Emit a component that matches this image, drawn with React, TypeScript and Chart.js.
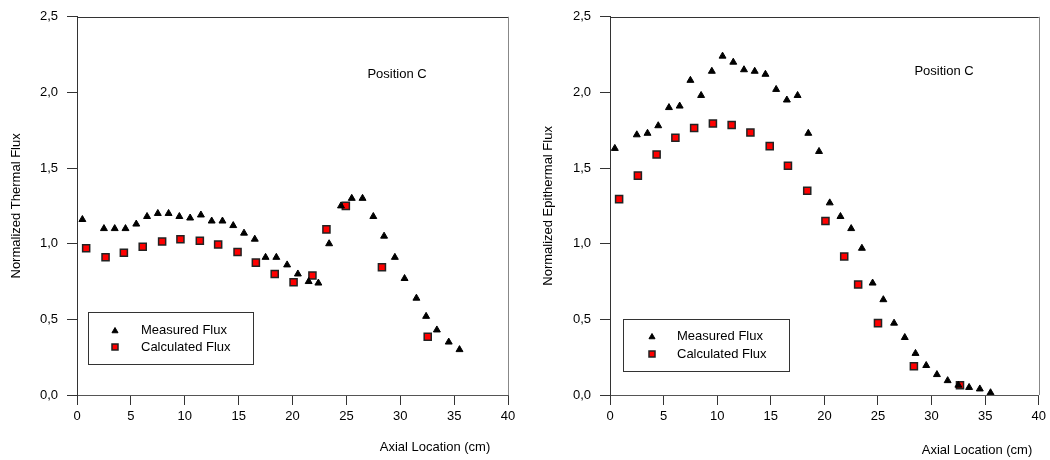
import React, { useEffect, useRef } from "react";
import { Chart, registerables } from "chart.js";

Chart.register(...registerables);

// ---------- Data ----------
const xTicks = [0, 5, 10, 15, 20, 25, 30, 35, 40];
const yTicks = [0, 0.5, 1.0, 1.5, 2.0, 2.5];

const thermalMeasuredX = [0.5, 2.5, 3.5, 4.5, 5.5, 6.5, 7.5, 8.5, 9.5, 10.5, 11.5, 12.5, 13.5, 14.5, 15.5, 16.5, 17.5, 18.5, 19.5, 20.5, 21.5, 22.4, 23.4, 24.5, 25.5, 26.5, 27.5, 28.5, 29.5, 30.4, 31.5, 32.4, 33.4, 34.5, 35.5];
const thermalMeasuredY = [1.16, 1.10, 1.10, 1.10, 1.13, 1.18, 1.20, 1.20, 1.18, 1.17, 1.19, 1.15, 1.15, 1.12, 1.07, 1.03, 0.91, 0.91, 0.86, 0.80, 0.75, 0.74, 1.00, 1.25, 1.30, 1.30, 1.18, 1.05, 0.91, 0.77, 0.64, 0.52, 0.43, 0.35, 0.30];
const thermalCalcX = [0.85, 2.65, 4.35, 6.1, 7.9, 9.6, 11.4, 13.1, 14.9, 16.6, 18.35, 20.1, 21.85, 23.15, 24.95, 28.3, 32.55];
const thermalCalcY = [0.97, 0.91, 0.94, 0.98, 1.015, 1.03, 1.02, 0.995, 0.945, 0.875, 0.80, 0.745, 0.79, 1.095, 1.25, 0.845, 0.385];

const epiMeasuredX = [0.45, 2.5, 3.5, 4.5, 5.5, 6.5, 7.5, 8.5, 9.5, 10.5, 11.5, 12.5, 13.5, 14.5, 15.5, 16.5, 17.5, 18.5, 19.5, 20.5, 21.5, 22.5, 23.5, 24.5, 25.5, 26.5, 27.5, 28.5, 29.5, 30.5, 31.5, 32.5, 33.5, 34.5, 35.5];
const epiMeasuredY = [1.63, 1.72, 1.73, 1.78, 1.90, 1.91, 2.08, 1.98, 2.14, 2.24, 2.20, 2.15, 2.14, 2.12, 2.02, 1.95, 1.98, 1.73, 1.61, 1.27, 1.18, 1.10, 0.97, 0.74, 0.63, 0.475, 0.38, 0.275, 0.195, 0.135, 0.095, 0.065, 0.05, 0.04, 0.015];
const epiCalcX = [0.85, 2.6, 4.35, 6.1, 7.85, 9.6, 11.35, 13.1, 14.9, 16.6, 18.4, 20.1, 21.85, 23.15, 25.0, 28.35, 32.65];
const epiCalcY = [1.295, 1.45, 1.59, 1.70, 1.765, 1.795, 1.785, 1.735, 1.645, 1.515, 1.35, 1.15, 0.915, 0.73, 0.475, 0.19, 0.065];

const seriesNames = ["Measured Flux", "Calculated Flux"];
const xTitle = "Axial Location (cm)";
const annotationText = "Position C";

const FONT = "'Liberation Sans', Arial, sans-serif";
const FS = 13;

function toPoints(xs: number[], ys: number[]) {
  return xs.map((x, i) => ({ x, y: ys[i] }));
}

type Layout = {
  left: number;
  yAxisWidth: number;
  rightPad: number;
  yTitlePad: number;
  legendBox: [number, number, number, number];
  legendMarkerX: number;
  legendTextX: number;
  legendRows: [number, number];
  annot: [number, number];
  xTitlePos: [number, number];
};

function drawTriangle(ctx: CanvasRenderingContext2D, x: number, y: number, r: number) {
  ctx.beginPath();
  ctx.moveTo(x, y - r);
  ctx.lineTo(x + r * Math.cos(Math.PI / 6), y + r * 0.5);
  ctx.lineTo(x - r * Math.cos(Math.PI / 6), y + r * 0.5);
  ctx.closePath();
  ctx.fillStyle = "#000";
  ctx.fill();
  ctx.strokeStyle = "#000";
  ctx.lineWidth = 1;
  ctx.stroke();
}

function drawSquare(ctx: CanvasRenderingContext2D, x: number, y: number, s: number) {
  ctx.fillStyle = "#ff0000";
  ctx.fillRect(x - s / 2, y - s / 2, s, s);
  ctx.strokeStyle = "#222";
  ctx.lineWidth = 1.5;
  ctx.strokeRect(x - s / 2, y - s / 2, s, s);
}

function FluxChart(props: {
  measured: { x: number; y: number }[];
  calculated: { x: number; y: number }[];
  yTitle: string;
  layout: Layout;
}) {
  const ref = useRef<HTMLCanvasElement>(null);
  const { layout } = props;

  useEffect(() => {
    if (!ref.current) return;
    const decor = {
      id: "decor",
      afterDraw(chart: any) {
        const ctx: CanvasRenderingContext2D = chart.ctx;
        const a = chart.chartArea;
        ctx.save();
        // frame top / right
        ctx.lineWidth = 1;
        ctx.strokeStyle = "#333";
        ctx.beginPath();
        ctx.moveTo(a.left, Math.round(a.top) + 0.5);
        ctx.lineTo(a.right, Math.round(a.top) + 0.5);
        ctx.stroke();
        ctx.strokeStyle = "#888";
        ctx.beginPath();
        ctx.moveTo(Math.round(a.right) + 0.5, a.top);
        ctx.lineTo(Math.round(a.right) + 0.5, a.bottom);
        ctx.stroke();

        // legend
        const [bx, by, bw, bh] = layout.legendBox;
        ctx.fillStyle = "#fff";
        ctx.fillRect(bx, by, bw, bh);
        ctx.strokeStyle = "#333";
        ctx.lineWidth = 1;
        ctx.strokeRect(bx + 0.5, by + 0.5, bw, bh);
        drawTriangle(ctx, layout.legendMarkerX, layout.legendRows[0] + 1, 3.5);
        drawSquare(ctx, layout.legendMarkerX, layout.legendRows[1], 6);
        ctx.fillStyle = "#000";
        ctx.font = `${FS}px ${FONT}`;
        ctx.textAlign = "left";
        ctx.textBaseline = "middle";
        ctx.fillText(seriesNames[0], layout.legendTextX, layout.legendRows[0]);
        ctx.fillText(seriesNames[1], layout.legendTextX, layout.legendRows[1]);

        // annotation
        ctx.textAlign = "center";
        ctx.fillText(annotationText, layout.annot[0], layout.annot[1]);

        // x title
        ctx.fillText(xTitle, layout.xTitlePos[0], layout.xTitlePos[1]);
        ctx.restore();
      },
    };

    const chart = new Chart(ref.current, {
      type: "scatter",
      data: {
        datasets: [
          {
            label: seriesNames[0],
            data: props.measured,
            pointStyle: "triangle",
            pointRadius: 4,
            backgroundColor: "#000",
            borderColor: "#000",
            borderWidth: 1,
          },
          {
            label: seriesNames[1],
            data: props.calculated,
            pointStyle: "rect",
            pointRadius: 5,
            backgroundColor: "#ff0000",
            borderColor: "#222",
            borderWidth: 1.5,
          },
        ],
      },
      options: {
        responsive: false,
        animation: false,
        events: [],
        layout: { padding: { left: 0, right: layout.rightPad, top: 14, bottom: 0 } },
        plugins: { legend: { display: false }, tooltip: { enabled: false } },
        scales: {
          x: {
            type: "linear",
            min: 0,
            max: 40,
            afterFit: (s: any) => { s.height = 65; },
            afterBuildTicks: (s: any) => { s.ticks = xTicks.map((v) => ({ value: v })); },
            ticks: { color: "#000", font: { family: FONT, size: FS }, padding: 4, maxRotation: 0, autoSkip: false },
            grid: { drawOnChartArea: false, drawTicks: true, tickLength: 10, color: "#333" },
            border: { display: true, color: "#555", width: 1 },
          },
          y: {
            type: "linear",
            min: 0,
            max: 2.5,
            afterFit: (s: any) => { s.width = layout.yAxisWidth; },
            afterBuildTicks: (s: any) => { s.ticks = yTicks.map((v) => ({ value: v })); },
            ticks: {
              color: "#000",
              font: { family: FONT, size: FS },
              padding: 9,
              callback: (v: any) => Number(v).toFixed(1).replace(".", ","),
            },
            grid: { drawOnChartArea: false, drawTicks: true, tickLength: 10, color: "#333" },
            border: { display: true, color: "#333", width: 1 },
            title: {
              display: true,
              text: props.yTitle,
              color: "#000",
              font: { family: FONT, size: FS },
              padding: { top: layout.yTitlePad, bottom: 0 },
            },
          },
        },
      },
      plugins: [decor],
    } as any);
    return () => chart.destroy();
  }, []);

  return (
    <canvas
      ref={ref}
      width={525}
      height={460}
      style={{ position: "absolute", left: layout.left, top: 0, width: 525, height: 460 }}
    />
  );
}

const leftLayout: Layout = {
  left: 0,
  yAxisWidth: 77,
  rightPad: 17,
  yTitlePad: 9,
  legendBox: [88, 312, 165, 52],
  legendMarkerX: 115,
  legendTextX: 141,
  legendRows: [330, 347],
  annot: [397, 74],
  xTitlePos: [435, 447],
};

const rightLayout: Layout = {
  left: 525,
  yAxisWidth: 85,
  rightPad: 10.5,
  yTitlePad: 16,
  legendBox: [98, 319, 166, 52],
  legendMarkerX: 127,
  legendTextX: 152,
  legendRows: [336, 354],
  annot: [419, 71],
  xTitlePos: [452, 450],
};

export default function App() {
  return (
    <div style={{ position: "absolute", left: 0, top: 0, width: 1050, height: 460, background: "#fff" }}>
      <FluxChart
        measured={toPoints(thermalMeasuredX, thermalMeasuredY)}
        calculated={toPoints(thermalCalcX, thermalCalcY)}
        yTitle="Normalized Thermal Flux"
        layout={leftLayout}
      />
      <FluxChart
        measured={toPoints(epiMeasuredX, epiMeasuredY)}
        calculated={toPoints(epiCalcX, epiCalcY)}
        yTitle="Normalized Epithermal Flux"
        layout={rightLayout}
      />
    </div>
  );
}
